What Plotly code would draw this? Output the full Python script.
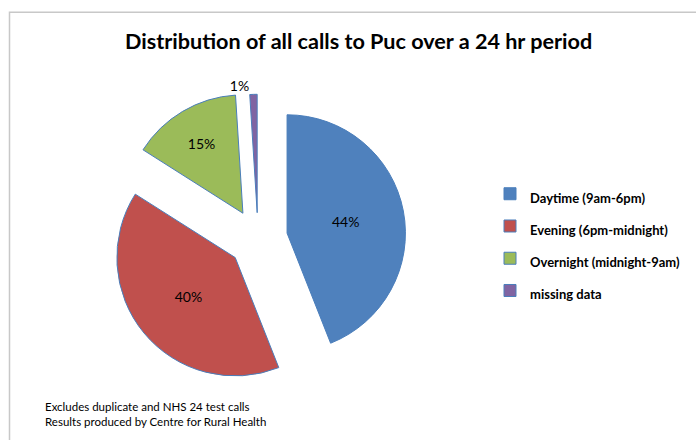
import plotly.graph_objects as go

categories = ["Daytime (9am-6pm)", "Evening (6pm-midnight)", "Overnight (midnight-9am)", "missing data"]
values = [44, 40, 15, 1]
colors = ["#4F81BD", "#C0504D", "#9BBB59", "#8064A2"]
pulls = [0.25, 0.25, 0.25, 0.22]
title_text = "Distribution of all calls to Puc over a 24 hr period"
notes = ["Excludes duplicate and NHS 24 test calls", "Results produced by Centre for Rural Health"]

W, H = 696, 440


def px(x):
    return x / W


def py(y):
    return 1 - y / H


legend_labels = [f'<span style="font-size:13px">{c}</span>' for c in categories]

radius = 120
cx, cy = 258, 242
half = radius * (1 + max(pulls))

fig = go.Figure(go.Pie(
    labels=legend_labels,
    values=values,
    sort=False,
    direction="clockwise",
    rotation=0,
    pull=pulls,
    marker=dict(colors=colors, line=dict(color="#4A7EBB", width=1)),
    textinfo="percent",
    textposition=["inside", "inside", "inside", "outside"],
    insidetextorientation="horizontal",
    textfont=dict(family="Lato", size=14, color="black"),
    insidetextfont=dict(family="Lato", size=14, color="black"),
    outsidetextfont=dict(family="Lato", size=14, color="black"),
    domain=dict(x=[px(cx - half), px(cx + half)], y=[py(cy + half), py(cy - half)]),
    hoverinfo="label+percent",
))

fig.update_layout(
    width=W, height=H,
    margin=dict(l=0, r=0, t=0, b=0),
    paper_bgcolor="white",
    plot_bgcolor="white",
    showlegend=True,
    legend=dict(
        x=px(490), y=py(175), xanchor="left", yanchor="top",
        font=dict(family="Lato", size=22.5, color="black", weight="bold"),
        bgcolor="rgba(0,0,0,0)",
    ),
    annotations=[
        dict(text=f"<b>{title_text}</b>", x=px(358), y=py(42), xref="paper", yref="paper",
             xanchor="center", yanchor="middle", showarrow=False,
             font=dict(family="Lato", size=21.6, color="black")),
        dict(text=notes[0], x=px(43), y=py(412), xref="paper", yref="paper",
             xanchor="left", yanchor="middle", align="left", showarrow=False,
             font=dict(family="Lato", size=11.5, color="black")),
        dict(text=notes[1], x=px(43), y=py(427), xref="paper", yref="paper",
             xanchor="left", yanchor="middle", align="left", showarrow=False,
             font=dict(family="Lato", size=11.5, color="black")),
    ],
    shapes=[
        dict(type="rect", xref="paper", yref="paper", x0=px(9.5), y0=-0.05, x1=1.05, y1=py(12.5),
             line=dict(color="#C8C8C8", width=1.5), fillcolor="rgba(0,0,0,0)", layer="below"),
    ],
)

fig.write_html(
    "out.html",
    config={"displayModeBar": False},
    post_script="document.body.style.margin='0';document.body.style.overflow='hidden';",
)
